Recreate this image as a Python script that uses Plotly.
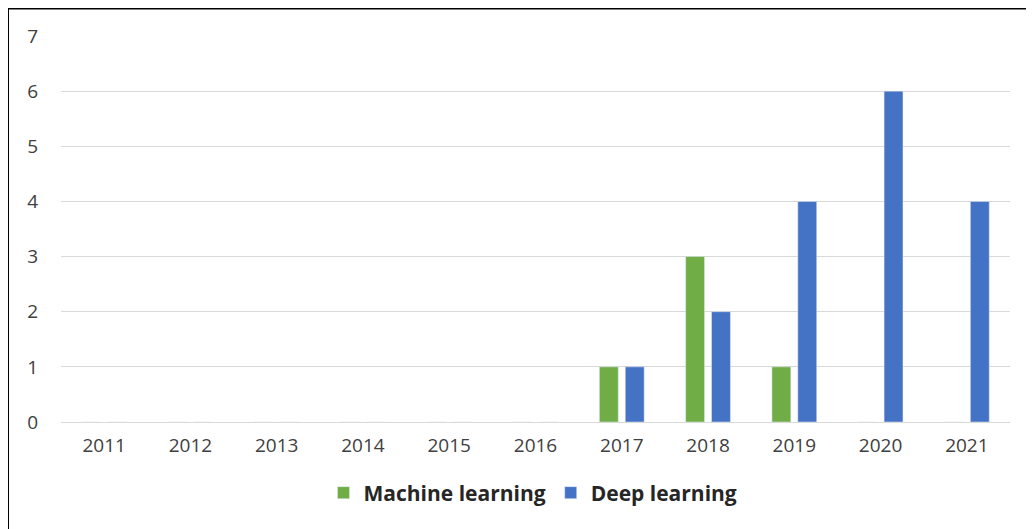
import plotly.graph_objects as go

years = ["2011", "2012", "2013", "2014", "2015", "2016", "2017", "2018", "2019", "2020", "2021"]
machine_learning = [0, 0, 0, 0, 0, 0, 1, 3, 1, 0, 0]
deep_learning = [0, 0, 0, 0, 0, 0, 1, 2, 4, 6, 4]
y_ticks = [0, 1, 2, 3, 4, 5, 6, 7]

# page is offset by the browser's default 8px body margin
OFF = 8
W, H = 1034, 529
L, R, T, B = 61 - OFF, 24 + OFF, 36 - OFF, 107 + OFF
pw, ph = W - L - R, H - T - B

def px_x(p):
    return (p - OFF - L) / pw

def px_y(p):
    return (H - B - (p - OFF)) / ph

fig = go.Figure()
fig.add_trace(go.Bar(name="Machine learning", x=years, y=machine_learning, marker_color="#70AD47"))
fig.add_trace(go.Bar(name="Deep learning", x=years, y=deep_learning, marker_color="#4472C4"))

fig.update_layout(
    width=W, height=H,
    margin=dict(l=L, r=R, t=T, b=B),
    paper_bgcolor="white", plot_bgcolor="white",
    barmode="group", bargap=0.4, bargroupgap=0.27,
    font=dict(family="Open Sans, Liberation Sans, sans-serif", size=18, color="#404040"),
    legend=dict(orientation="h", x=px_x(533), xanchor="center", y=px_y(493), yanchor="middle",
                font=dict(size=21, color="#262626", family="Open Sans, sans-serif", weight="bold"),
                itemwidth=30, tracegroupgap=0, bgcolor="rgba(0,0,0,0)"),
    xaxis=dict(type="category", showgrid=False, showline=True, linecolor="#D9D9D9", linewidth=1,
               ticks="", tickfont=dict(size=19, color="#404040"), ticklabelstandoff=6),
    yaxis=dict(range=[0, 7], tickvals=y_ticks, showgrid=True, gridcolor="#D9D9D9", gridwidth=1,
               zeroline=False, showline=False, ticks="", tickfont=dict(size=19, color="#404040"),
               ticklabelstandoff=22),
    shapes=[
        dict(type="line", xref="paper", yref="paper", x0=px_x(8), x1=px_x(8), y0=px_y(8), y1=px_y(545),
             line=dict(color="black", width=2)),
        dict(type="line", xref="paper", yref="paper", x0=px_x(7), x1=px_x(1045), y0=px_y(8.5), y1=px_y(8.5),
             line=dict(color="black", width=2)),
    ],
)

fig.write_html("out.html")
